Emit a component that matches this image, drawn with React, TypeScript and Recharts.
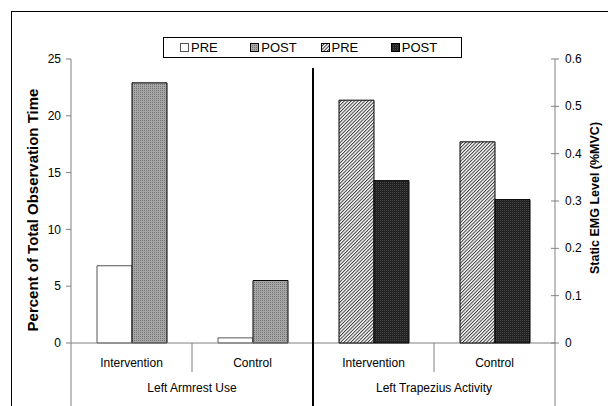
import React from 'react';
import { BarChart, Bar, XAxis, YAxis, Legend } from 'recharts';

// categories along the bottom, two per group
const categories = ['Intervention', 'Control', 'Intervention', 'Control'];
const groups = ['Left Armrest Use', 'Left Armrest Use', 'Left Trapezius Activity', 'Left Trapezius Activity'];

// left axis: percent of total observation time
const armrestPre = [6.8, 0.45, null, null];
const armrestPost = [22.9, 5.5, null, null];

// right axis: static EMG level (%MVC)
const trapeziusPre = [null, null, 0.513, 0.425];
const trapeziusPost = [null, null, 0.343, 0.303];

const leftTicks = [0, 5, 10, 15, 20, 25];
const rightTicks = [0, 0.1, 0.2, 0.3, 0.4, 0.5, 0.6];
const legendLabels = ['PRE', 'POST', 'PRE', 'POST'];
const legendFills = ['#ffffff', 'url(#dotGray)', 'url(#hatch)', 'url(#darkDots)'];

const data = categories.map((cat, i) => ({
  cat,
  group: groups[i],
  armrestPre: armrestPre[i],
  armrestPost: armrestPost[i],
  trapeziusPre: trapeziusPre[i],
  trapeziusPost: trapeziusPost[i],
}));

const W = 608;
const H = 406;
const PLOT_LEFT = 71;
const PLOT_RIGHT = 555;
const PLOT_TOP = 59;
const PLOT_BOTTOM = 343;
const BAND = (PLOT_RIGHT - PLOT_LEFT) / categories.length;
const FONT = 'Arial, "Liberation Sans", sans-serif';
const AXIS = '#808080';

const Patterns = () => (
  <svg width={0} height={0} style={{ position: 'absolute' }}>
    <defs>
      <pattern id="dotGray" width={2} height={2} patternUnits="userSpaceOnUse">
        <rect width={2} height={2} fill="#a8a8a8" />
        <rect width={1} height={1} fill="#707070" />
      </pattern>
      <pattern id="hatch" width={2.4} height={2.4} patternUnits="userSpaceOnUse" patternTransform="rotate(45)">
        <rect width={2.4} height={2.4} fill="#ffffff" />
        <rect width={1} height={2.4} fill="#3a3a3a" />
      </pattern>
      <pattern id="darkDots" width={2} height={2} patternUnits="userSpaceOnUse">
        <rect width={2} height={2} fill="#222222" />
        <rect width={1} height={1} fill="#474747" />
      </pattern>
    </defs>
  </svg>
);

const LegendBox = () => (
  <div
    style={{
      width: 299,
      height: 21,
      border: '1px solid #000',
      background: '#fff',
      boxSizing: 'border-box',
      display: 'flex',
      alignItems: 'center',
      paddingLeft: 16,
      fontFamily: FONT,
      fontSize: 13,
      color: '#000',
    }}
  >
    {legendLabels.map((label, i) => (
      <div key={i} style={{ width: 74.5, display: 'flex', alignItems: 'center' }}>
        <svg width={9} height={9} style={{ marginRight: 2 }}>
          <rect x={0.5} y={0.5} width={8} height={8} fill={legendFills[i]} stroke={i === 0 ? '#555' : '#000'} />
        </svg>
        <span>{label}</span>
      </div>
    ))}
  </div>
);

const CategoryTick = (props: any) => {
  const { x, y, payload, index } = props;
  return (
    <g>
      <text x={x} y={y + 24} textAnchor="middle" fontSize={12} fontFamily={FONT} fill="#000">
        {payload.value}
      </text>
      {index % 2 === 1 && (
        <line x1={x - BAND / 2} x2={x - BAND / 2} y1={y} y2={y + 29} stroke={AXIS} />
      )}
    </g>
  );
};

const GroupTick = (props: any) => {
  const { x, y, payload, index } = props;
  return (
    <g>
      <text x={x} y={y + 19} textAnchor="middle" fontSize={12} fontFamily={FONT} fill="#000">
        {payload.value}
      </text>
      {index === 0 && (
        <>
          <line x1={x - BAND} x2={x - BAND} y1={PLOT_BOTTOM} y2={H} stroke={AXIS} />
          <line x1={x + BAND} x2={x + BAND} y1={68} y2={H} stroke="#000" strokeWidth={2} />
        </>
      )}
      {index === 1 && <line x1={x + BAND} x2={x + BAND} y1={PLOT_BOTTOM} y2={H} stroke={AXIS} />}
    </g>
  );
};

const RightTick = (props: any) => {
  const { x, y, payload } = props;
  return (
    <g>
      <line x1={PLOT_RIGHT - 4} x2={PLOT_RIGHT + 4} y1={y} y2={y} stroke={AXIS} />
      <text x={x + 1} y={y} dy={4} fontSize={12} fontFamily={FONT} fill="#000">
        {payload.value}
      </text>
    </g>
  );
};

const LeftTitle = () => {
  const cx = 32;
  const cy = (PLOT_TOP + PLOT_BOTTOM) / 2 + 9;
  return (
    <text
      x={cx}
      y={cy}
      transform={`rotate(-90, ${cx}, ${cy})`}
      textAnchor="middle"
      dominantBaseline="central"
      fontSize={15}
      fontWeight="bold"
      fontFamily={FONT}
      fill="#000"
    >
      Percent of Total Observation Time
    </text>
  );
};

const RightTitle = () => {
  const cx = 595;
  const cy = (PLOT_TOP + PLOT_BOTTOM) / 2 - 3;
  return (
    <text
      x={cx}
      y={cy}
      transform={`rotate(-90, ${cx}, ${cy})`}
      textAnchor="middle"
      dominantBaseline="central"
      fontSize={12.5}
      fontWeight="bold"
      fontFamily={FONT}
      fill="#000"
    >
      Static EMG Level (%MVC)
    </text>
  );
};

export default function App() {
  return (
    <div style={{ position: 'relative', width: W, height: H, overflow: 'hidden', background: '#fff' }}>
      <style>{'body{margin:0}'}</style>
      <Patterns />
      <div
        style={{
          position: 'absolute',
          left: 11,
          top: 11,
          width: 700,
          height: 500,
          border: '1px solid #000',
        }}
      />

      {/* left half: armrest use on the left axis */}
      <div style={{ position: 'absolute', left: 0, top: 0 }}>
        <BarChart
          width={W}
          height={H}
          data={data}
          margin={{ top: PLOT_TOP, right: W - PLOT_RIGHT, bottom: 0, left: 0 }}
          barCategoryGap={26}
          barGap={0}
        >
          <XAxis
            dataKey="cat"
            height={30}
            tickLine={false}
            tickSize={0}
            tickMargin={0}
            stroke={AXIS}
            tick={<CategoryTick />}
            interval={0}
          />
          <XAxis
            xAxisId="group"
            dataKey="group"
            height={33}
            allowDuplicatedCategory={false}
            axisLine={false}
            tickLine={false}
            tickSize={0}
            tickMargin={0}
            tick={<GroupTick />}
            interval={0}
          />
          <YAxis
            width={PLOT_LEFT}
            domain={[0, 25]}
            ticks={leftTicks}
            interval={0}
            tickSize={5}
            tickMargin={5}
            stroke={AXIS}
            tick={{ fill: '#000', fontSize: 12, fontFamily: FONT }}
            label={() => <LeftTitle />}
          />
          <Legend
            layout="horizontal"
            verticalAlign="middle"
            align="center"
            wrapperStyle={{ left: 163, top: 37, width: 299, height: 21 }}
            content={() => <LegendBox />}
          />
          <Bar dataKey="armrestPre" fill="#ffffff" stroke="#555" strokeWidth={1} isAnimationActive={false} />
          <Bar dataKey="armrestPost" fill="url(#dotGray)" stroke="#000" strokeWidth={1} isAnimationActive={false} />
        </BarChart>
      </div>

      {/* right half: trapezius activity on the right axis */}
      <div style={{ position: 'absolute', left: 0, top: 0 }}>
        <BarChart
          width={W}
          height={H}
          data={data}
          margin={{ top: PLOT_TOP, right: 0, bottom: H - PLOT_BOTTOM, left: PLOT_LEFT }}
          barCategoryGap={26}
          barGap={0}
        >
          <XAxis dataKey="cat" hide />
          <YAxis
            orientation="right"
            width={W - PLOT_RIGHT}
            domain={[0, 0.6]}
            ticks={rightTicks}
            interval={0}
            tickLine={false}
            tickSize={4}
            tickMargin={5}
            stroke={AXIS}
            tick={<RightTick />}
            label={() => <RightTitle />}
          />
          <Bar dataKey="trapeziusPre" fill="url(#hatch)" stroke="#000" strokeWidth={1} isAnimationActive={false} />
          <Bar dataKey="trapeziusPost" fill="url(#darkDots)" stroke="#000" strokeWidth={1} isAnimationActive={false} />
        </BarChart>
      </div>
    </div>
  );
}
